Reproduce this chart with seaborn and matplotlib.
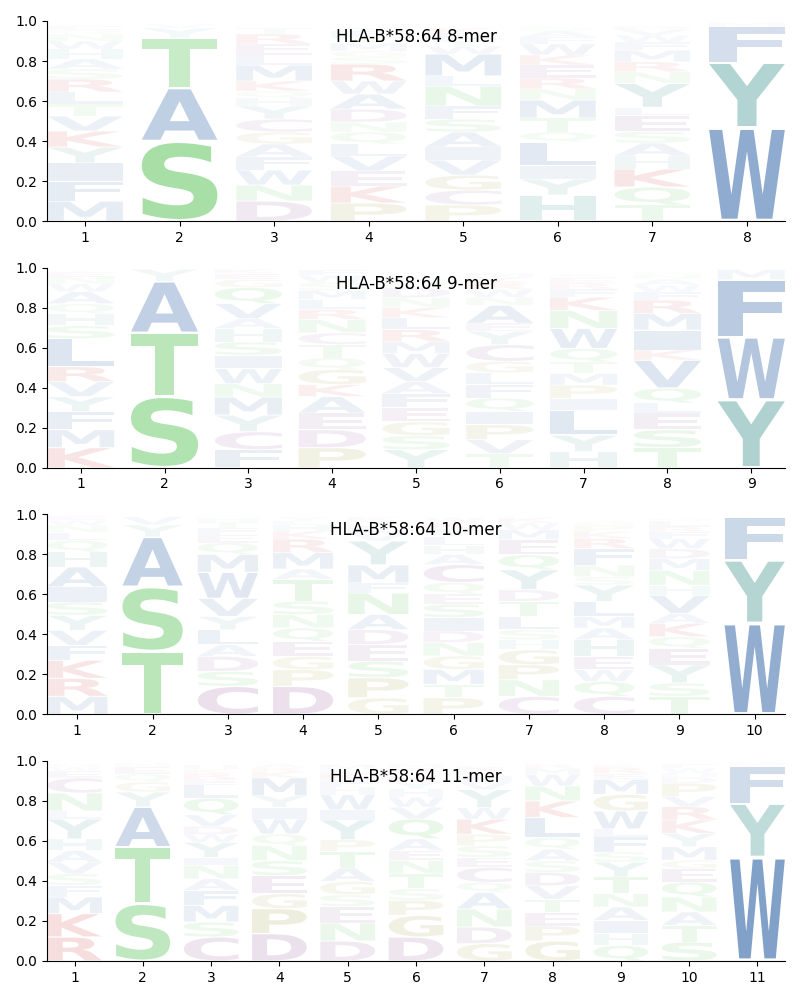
import matplotlib
matplotlib.use("Agg")
import matplotlib.pyplot as plt
import seaborn as sns
from matplotlib.font_manager import FontProperties
from matplotlib.textpath import TextPath
from matplotlib.patches import PathPatch
from matplotlib.transforms import Affine2D

# ---------------------------------------------------------------------------
# Data: per position, letters listed bottom -> top with their stack heights
# ---------------------------------------------------------------------------

ALLELE = "HLA-B*58:64"
LENGTHS = [8, 9, 10, 11]

MER8_LETTERS = ["MFIYKVTLRSAHWNQE", "SATYV", "DNWFAGCYHQKMLERT", "PKEVLQNDAWRSGMTFY",
                "PCGVIASFNLMWYEK", "HYILQTMNREKWFAS", "TQKHASELYNRMFWVD", "WYFM"]
MER8_HEIGHTS = [
    [.10, .10, .09, .08, .08, .075, .06, .06, .065, .05, .05, .05, .04, .035, .02, .02],
    [.40, .265, .25, .05, .02],
    [.10, .08, .075, .065, .065, .06, .065, .065, .04, .035, .05, .08, .05, .055, .05, .03],
    [.09, .085, .075, .075, .06, .06, .05, .065, .075, .065, .085, .035, .03, .04, .03, .03, .02],
    [.08, .075, .075, .075, .065, .075, .065, .065, .10, .05, .11, .04, .035, .03, .025],
    [.13, .08, .065, .12, .05, .07, .09, .055, .055, .065, .05, .055, .035, .03, .02],
    [.08, .09, .09, .065, .065, .058, .08, .04, .12, .058, .05, .058, .04, .035, .03, .015],
    [.467, .326, .18, .02],
]

MER9_LETTERS = ["KMFYVRLSHQAWNET", "STAY", "FCYMNWISHAVQGEK", "PDEAKGQTCNRLMSWF",
                "YSGEFAVWMRLKNDQP", "TVPIQFLGCYEANWRKM", "HYLIPMTQWNKFRES",
                "TSELQVKIMRFWANG", "YWFM"]
MER9_HEIGHTS = [
    [.10, .09, .09, .075, .075, .075, .14, .065, .06, .05, .06, .04, .035, .025, .01],
    [.357, .317, .258, .06],
    [.09, .09, .083, .09, .067, .075, .067, .067, .067, .05, .075, .08, .04, .03, .02],
    [.10, .09, .083, .083, .06, .075, .058, .067, .058, .067, .05, .05, .045, .04, .035, .03],
    [.09, .07, .07, .07, .07, .06, .07, .07, .06, .06, .06, .05, .05, .05, .03, .02],
    [.07, .07, .075, .067, .067, .067, .058, .058, .083, .067, .04, .09, .04, .04, .03, .03, .02],
    [.08, .083, .125, .058, .067, .058, .058, .067, .10, .09, .067, .04, .03, .025, .02],
    [.10, .09, .083, .05, .075, .14, .05, .10, .083, .067, .04, .035, .03, .02, .015],
    [.34, .313, .287, .05],
]

MER10_LETTERS = ["MRKFVYSIAHQLNWE", "TSAYV", "CSDALYVWMQEFTH", "DPGEQNSTAMRKHLY",
                 "GPSEDANFMYVLTK", "PTMGNDISEQCAHLYKW", "CNPGHSLTDYQEMWK",
                 "CQWEHAMLYSNFRKPG", "TSYEQKAVHNMDWFRLG", "WYF"]
MER10_HEIGHTS = [
    [.09, .09, .09, .075, .075, .075, .067, .075, .10, .075, .058, .04, .035, .025, .02],
    [.315, .323, .249, .06, .04],
    [.14, .075, .075, .058, .075, .067, .09, .13, .09, .058, .04, .035, .03, .02],
    [.14, .083, .067, .075, .067, .067, .067, .11, .05, .083, .067, .04, .03, .02, .02],
    [.083, .10, .083, .083, .075, .075, .108, .05, .09, .12, .04, .035, .025, .02],
    [.083, .067, .075, .067, .067, .058, .067, .067, .05, .058, .09, .05, .045, .045, .04, .03, .025],
    [.09, .083, .075, .075, .05, .05, .067, .075, .058, .10, .075, .075, .05, .035, .025],
    [.09, .075, .058, .067, .083, .058, .058, .075, .083, .041, .058, .083, .05, .035, .03, .02],
    [.09, .067, .09, .083, .058, .067, .05, .09, .05, .075, .058, .05, .05, .035, .025, .03, .015],
    [.456, .315, .216],
]

MER11_LETTERS = ["RKMFSVAHYLNCEWQ", "STAYGQEN", "CSMFANIYWDVQLERKH", "DPGESNQWIYMKRA",
                 "DNESGATPYIWHFKLM", "DGPSTNEAQVWHYKLRM", "GDNAQCESPKWYVMLR",
                 "GPETVDSAQLKNWMR", "QHIANTYSFLWGMERK", "STANQEGMYKRVPDHWF", "WYFM"]
MER11_HEIGHTS = [
    [.12, .117, .083, .058, .058, .058, .058, .058, .10, .04, .09, .075, .035, .02, .015],
    [.287, .283, .20, .075, .05, .04, .035, .02],
    [.12, .075, .083, .075, .058, .067, .04, .075, .04, .04, .058, .083, .065, .03, .03, .02, .02],
    [.137, .125, .075, .09, .075, .075, .058, .075, .058, .058, .09, .03, .02, .02],
    [.10, .09, .083, .058, .067, .067, .083, .058, .10, .05, .075, .04, .035, .03, .02, .025],
    [.12, .108, .075, .058, .075, .067, .05, .058, .10, .058, .05, .04, .035, .03, .02, .02, .02],
    [.087, .083, .09, .083, .05, .075, .05, .058, .058, .075, .058, .09, .04, .03, .025, .02],
    [.10, .075, .067, .067, .067, .067, .058, .058, .058, .10, .083, .075, .058, .03, .02],
    [.078, .058, .067, .067, .067, .083, .075, .05, .075, .04, .09, .083, .075, .03, .03, .015],
    [.095, .083, .067, .075, .075, .067, .042, .067, .067, .067, .067, .05, .067, .03, .02, .025, .02],
    [.52, .267, .19, .015],
]

PANELS = [
    (MER8_LETTERS, MER8_HEIGHTS),
    (MER9_LETTERS, MER9_HEIGHTS),
    (MER10_LETTERS, MER10_HEIGHTS),
    (MER11_LETTERS, MER11_HEIGHTS),
]

# residue colour groups
GROUP_COLORS = {
    "AVLIMFW": "#3f6fad",
    "STNQ": "#51c151",
    "HY": "#439691",
    "KR": "#c82828",
    "DEC": "#8e5296",
    "PG": "#94942e",
}
COLORS = {aa: c for group, c in GROUP_COLORS.items() for aa in group}

LETTER_WIDTH = 0.8
VPAD = 0.05
FONT = FontProperties(family="DejaVu Sans", weight="bold")
_path_cache = {}


def glyph(ch):
    if ch not in _path_cache:
        _path_cache[ch] = TextPath((0, 0), ch, size=1, prop=FONT)
    return _path_cache[ch]


def draw_letter(ax, ch, x, y0, h):
    path = glyph(ch)
    bb = path.get_extents()
    gh = h * (1 - VPAD)
    tr = (Affine2D()
          .translate(-bb.x0, -bb.y0)
          .scale(LETTER_WIDTH / bb.width, gh / bb.height)
          .translate(x - LETTER_WIDTH / 2, y0 + h * VPAD / 2))
    # opacity follows the letter's probability
    alpha = min(1.0, 1.25 * h)
    patch = PathPatch(tr.transform_path(path), facecolor=COLORS[ch],
                      edgecolor="none", alpha=alpha)
    ax.add_patch(patch)


def draw_logo(ax, letters, heights, title):
    n = len(letters)
    for pos, (seq, hs) in enumerate(zip(letters, heights), start=1):
        y = 0.0
        for ch, h in zip(seq, hs):
            draw_letter(ax, ch, pos, y, h)
            y += h
    ax.set_xlim(0.6, n + 0.4)
    ax.set_ylim(0, 1)
    ax.set_xticks(range(1, n + 1))
    ax.set_yticks([0, 0.2, 0.4, 0.6, 0.8, 1.0])
    ax.set_yticklabels([f"{v:.1f}" for v in [0, 0.2, 0.4, 0.6, 0.8, 1.0]])
    ax.text(0.5, 0.92, title, transform=ax.transAxes, ha="center",
            va="center", fontsize=12, zorder=10)
    sns.despine(ax=ax)


fig, axes = plt.subplots(4, 1, figsize=(8, 10))
fig.subplots_adjust(left=0.059, right=0.981, top=0.979, bottom=0.039, hspace=0.233)

for ax, (letters, heights), k in zip(axes, PANELS, LENGTHS):
    draw_logo(ax, letters, heights, f"{ALLELE} {k}-mer")

fig.savefig("out.png", dpi=100)
